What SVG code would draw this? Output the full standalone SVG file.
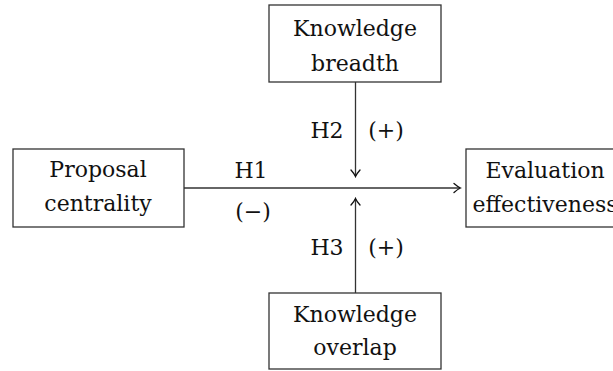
<svg xmlns="http://www.w3.org/2000/svg" width="613" height="371" viewBox="0 0 613 371">
<style>
.box{fill:#fff;stroke:#333;stroke-width:1.3}
.t{font-family:"DejaVu Serif","Liberation Serif",serif;font-size:22px;fill:#111;text-anchor:middle}
.c{stroke:#333;stroke-width:1.3;fill:none}
</style>
<defs>
<marker id="ar" markerUnits="userSpaceOnUse" viewBox="-8 -6 10 12" refX="0" refY="0" markerWidth="10" markerHeight="12" orient="auto">
<path d="M-6,-4.5 Q-2,-1 0.5,0 Q-2,1 -6,4.5" fill="none" stroke="#111" stroke-width="1.3" stroke-linecap="round"/>
</marker>
</defs>
<rect width="613" height="371" fill="#fff"/>
<g id="connectors">
<line class="c" x1="184" y1="188" x2="460" y2="188" marker-end="url(#ar)"/>
<line class="c" x1="355.5" y1="82" x2="355.5" y2="176" marker-end="url(#ar)"/>
<line class="c" x1="355.5" y1="293" x2="355.5" y2="199" marker-end="url(#ar)"/>
<text class="t" x="251" y="178">H1</text>
<text class="t" x="253" y="219">(−)</text>
<text class="t" x="327" y="138">H2</text>
<text class="t" x="386" y="138">(+)</text>
<text class="t" x="327" y="255">H3</text>
<text class="t" x="386" y="255">(+)</text>
</g>
<g id="breadth">
<rect class="box" x="269" y="5" width="172" height="77"/>
<text class="t" x="355" y="36">Knowledge</text>
<text class="t" x="355" y="71">breadth</text>
</g>
<g id="proposal">
<rect class="box" x="13" y="149" width="171" height="78"/>
<text class="t" x="98" y="177">Proposal</text>
<text class="t" x="98" y="211">centrality</text>
</g>
<g id="evaluation">
<rect class="box" x="466" y="149" width="160" height="78"/>
<text class="t" x="545" y="178">Evaluation</text>
<text class="t" x="545" y="212">effectiveness</text>
</g>
<g id="overlap">
<rect class="box" x="269" y="293" width="172" height="76"/>
<text class="t" x="355" y="322">Knowledge</text>
<text class="t" x="355" y="355">overlap</text>
</g>
</svg>
